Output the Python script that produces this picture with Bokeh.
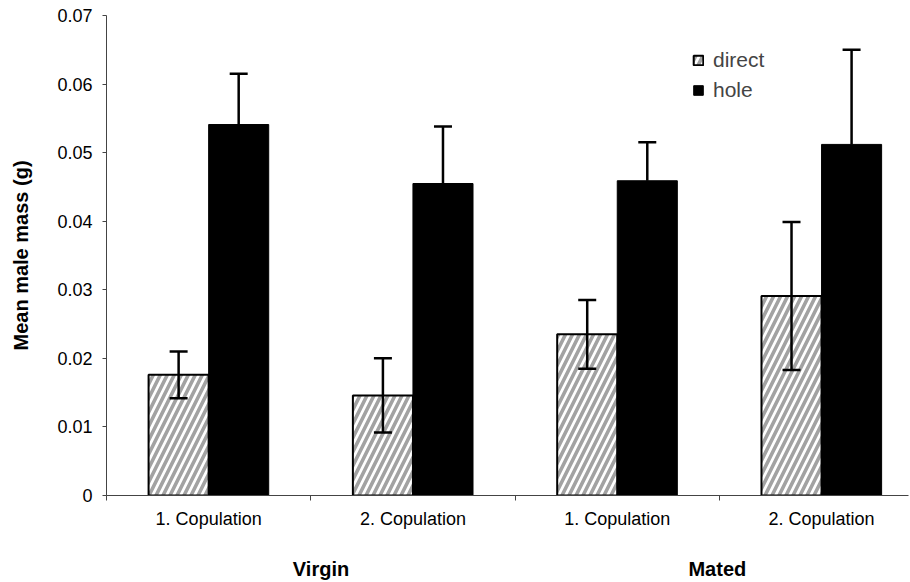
import numpy as np
from bokeh.plotting import figure
from bokeh.models import (ColumnDataSource, Range1d, FixedTicker, Whisker, TeeHead,
                          Legend, LegendItem, CustomJSTickFormatter, LinearAxis)
from bokeh.embed import file_html
from bokeh.resources import INLINE

# ---- data ----
tick_labels = ["1. Copulation", "2. Copulation", "1. Copulation", "2. Copulation"]
groups = ["Virgin", "Mated"]
group_pos = [1.05, 2.99]
direct_mean = [0.0176, 0.0146, 0.0235, 0.0291]
direct_err = [0.0034, 0.0054, 0.0050, 0.0108]
hole_mean = [0.0541, 0.0455, 0.0459, 0.0512]
hole_err = [0.0074, 0.0083, 0.0056, 0.0138]
y_ticks = [0, 0.01, 0.02, 0.03, 0.04, 0.05, 0.06, 0.07]

FONT = "Liberation Sans"
idx = np.arange(len(tick_labels))
bar_w = 0.294
dx = 0.147
GROUP_PX = 204.3

src_d = ColumnDataSource(dict(
    x=idx + 0.5 - dx, top=direct_mean,
    upper=np.array(direct_mean) + np.array(direct_err),
    lower=np.array(direct_mean) - np.array(direct_err)))
src_h = ColumnDataSource(dict(
    x=idx + 0.5 + dx, top=hole_mean,
    upper=np.array(hole_mean) + np.array(hole_err),
    lower=np.array(hole_mean)))

FW, FH = 802, 480
p = figure(frame_width=FW, frame_height=FH,
           x_range=Range1d(0, FW / GROUP_PX), y_range=Range1d(0, 0.07),
           output_backend="svg", toolbar_location=None,
           min_border_left=106, min_border_right=2, min_border_top=15, min_border_bottom=87)
p.outline_line_color = None
p.xgrid.visible = False
p.ygrid.visible = False
p.background_fill_color = "white"

r_d = p.vbar(x="x", top="top", width=bar_w, bottom=0, source=src_d,
             fill_color="white", hatch_pattern="/", hatch_color="#a2a2a2",
             hatch_scale=14, hatch_weight=3.6, line_color="black", line_width=2)
r_h = p.vbar(x="x", top="top", width=bar_w, bottom=0, source=src_h,
             fill_color="black", line_color="black", line_width=1)

for src, low in ((src_d, True), (src_h, False)):
    w = Whisker(source=src, base="x", upper="upper", lower="lower", level="annotation",
                line_color="black", line_width=2.5,
                upper_head=TeeHead(size=18, line_width=2.5, line_color="black"),
                lower_head=TeeHead(size=18, line_width=2.5, line_color="black") if low else None)
    p.add_layout(w)

# y axis
yax = p.yaxis[0]
yax.ticker = FixedTicker(ticks=y_ticks, minor_ticks=[])
yax.formatter = CustomJSTickFormatter(code="return tick == 0 ? '0' : tick.toFixed(2);")
yax.major_tick_out = 4
yax.major_tick_in = 0
yax.major_label_standoff = 10
yax.major_label_text_font = FONT
yax.major_label_text_font_size = "18px"
yax.major_label_text_color = "black"
yax.axis_line_color = "#444444"
yax.major_tick_line_color = "#444444"
yax.axis_label = "Mean male mass (g)"
yax.axis_label_text_font = FONT
yax.axis_label_text_font_size = "20px"
yax.axis_label_text_font_style = "bold"
yax.axis_label_text_color = "black"
yax.axis_label_standoff = 22

# x axis (category labels)
xax = p.xaxis[0]
centers = list(idx + 0.5)
xax.ticker = FixedTicker(ticks=centers, minor_ticks=list(range(len(tick_labels) + 1)))
xax.major_label_overrides = {float(c): lab for c, lab in zip(centers, tick_labels)}
xax.major_tick_line_color = None
xax.major_tick_out = 0
xax.minor_tick_out = 5
xax.minor_tick_in = 0
xax.minor_tick_line_color = "#444444"
xax.axis_line_color = "#444444"
xax.major_label_standoff = 8
xax.major_label_text_font = FONT
xax.major_label_text_font_size = "18px"
xax.major_label_text_color = "black"

# group labels axis
gax = LinearAxis(ticker=FixedTicker(ticks=group_pos, minor_ticks=[]),
                 major_label_overrides={float(g): n for g, n in zip(group_pos, groups)},
                 axis_line_color=None, major_tick_line_color=None, minor_tick_line_color=None,
                 major_tick_out=0, major_tick_in=0, major_label_standoff=26,
                 major_label_text_font=FONT, major_label_text_font_size="20px",
                 major_label_text_font_style="bold", major_label_text_color="black")
p.add_layout(gax, "below")

legend = Legend(items=[LegendItem(label="direct", renderers=[r_d]),
                       LegendItem(label="hole", renderers=[r_h])],
                location=(586, 393), padding=0, margin=0, spacing=6,
                glyph_width=12, glyph_height=12, label_height=24, label_standoff=9,
                label_text_font=FONT, label_text_font_size="21px",
                border_line_color=None, background_fill_alpha=0)
p.add_layout(legend)

open("out.html", "w").write(file_html(p, INLINE))
